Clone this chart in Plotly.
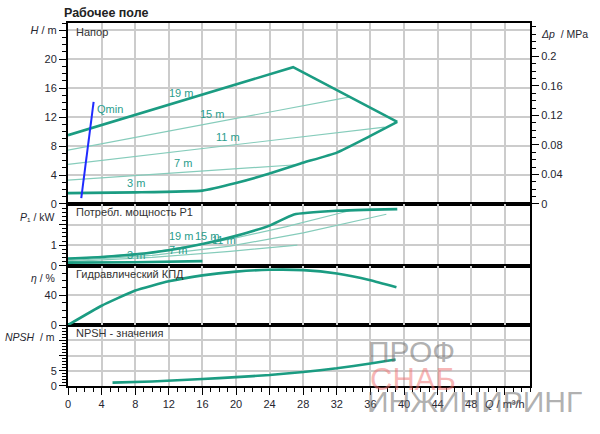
import plotly.graph_objects as go

# ---------------- data ----------------
# Head (H, m) vs flow (Q, m3/h)
q_hmax = [0, 26.8, 39.2]
h_hmax = [9.5, 18.9, 11.35]
q_hmin = [0, 8, 16, 20, 24, 27.7, 32, 36, 39.2]
h_hmin = [1.5, 1.6, 1.85, 2.9, 4.2, 5.6, 7.1, 9.4, 11.35]
q_h15 = [0, 33.6]
h_h15 = [7.45, 14.8]
q_h11 = [0, 37.7]
h_h11 = [5.47, 10.62]
q_h7 = [0, 27.2]
h_h7 = [3.3, 5.42]
q_qmin = [1.58, 3.05]
h_qmin = [0.8, 14.1]

# Power P1 (kW)
q_p19 = [0, 4, 8, 12, 16, 20, 24, 26.9, 32, 39.2]
p_p19 = [0.35, 0.42, 0.55, 0.75, 1.05, 1.45, 1.95, 2.49, 2.67, 2.75]
q_p15 = [0, 10, 19.3, 26, 33.5]
p_p15 = [0.3, 0.65, 1.29, 1.9, 2.67]
q_p11 = [0, 10, 19.3, 28, 37.9]
p_p11 = [0.25, 0.5, 0.95, 1.6, 2.5]
q_p7 = [0, 10, 19.3, 27.3]
p_p7 = [0.2, 0.4, 0.7, 1.0]
q_p3 = [0, 8, 16]
p_p3 = [0.15, 0.17, 0.22]

# Hydraulic efficiency (%)
q_eta = [0, 4, 8, 12, 16, 20, 24, 28, 32, 36, 39.1]
eta = [0, 26, 46.5, 59, 67, 72, 74.5, 74, 69.5, 60.5, 51]

# NPSH (m)
q_npsh = [5.3, 10, 16, 20, 24, 28, 32, 36, 39]
npsh = [1.1, 1.5, 2.3, 2.9, 3.6, 4.6, 5.8, 7.4, 8.7]

# curve labels
lab_h_text = ["19 m", "15 m", "11 m", "7 m", "3 m"]
lab_h_x = [13.5, 17.2, 19.1, 13.7, 8.1]
lab_h_y = [15.4, 12.5, 9.3, 5.7, 2.85]
lab_p_text = ["19 m", "15 m", "11 m", "7 m", "3 m"]
lab_p_x = [13.5, 16.6, 18.6, 13.1, 8.1]
lab_p_y = [1.45, 1.45, 1.23, 0.78, 0.5]

x_ticks = [0, 4, 8, 12, 16, 20, 24, 28, 32, 36, 40, 44, 48, 52]
x_ticktext = ["0", "4", "8", "12", "16", "20", "24", "28", "32", "36", "40", "44", "48",
              "<i>Q</i> / m³/h"]
h_ticks = [0, 4, 8, 12, 16, 20, 24]
h_ticktext = ["0", "4", "8", "12", "16", "20", "<i>H</i> / m"]
dp_ticks = [0, 0.04, 0.08, 0.12, 0.16, 0.2]
dp_ticktext = ["0", "0.04", "0.08", "0.12", "0.16", "0.2"]

# ---------------- style ----------------
TEAL = "#1b9c82"
TEAL_THIN = "#86ccbb"
LABEL = "#2a9d8c"
GRID = "#cccccc"
FONT = "Liberation Sans, Arial, sans-serif"
TXT = "#262630"

fig = go.Figure()

def thick(x, y, xa, ya):
    fig.add_trace(go.Scatter(x=x, y=y, mode="lines", xaxis=xa, yaxis=ya,
                             line=dict(color=TEAL, width=2.6, shape="spline", smoothing=0.4),
                             hoverinfo="skip", showlegend=False))

def thin(x, y, xa, ya):
    fig.add_trace(go.Scatter(x=x, y=y, mode="lines", xaxis=xa, yaxis=ya,
                             line=dict(color=TEAL_THIN, width=1.2), hoverinfo="skip",
                             showlegend=False))

# H panel
thin(q_h15, h_h15, "x2", "y")
thin(q_h11, h_h11, "x2", "y")
thin(q_h7, h_h7, "x2", "y")
fig.add_trace(go.Scatter(x=q_hmax, y=h_hmax, mode="lines", xaxis="x2", yaxis="y",
                         line=dict(color=TEAL, width=2.6), hoverinfo="skip",
                         showlegend=False))
thick(q_hmin, h_hmin, "x2", "y")
fig.add_trace(go.Scatter(x=q_qmin, y=h_qmin, mode="lines", xaxis="x2", yaxis="y",
                         line=dict(color="#1f2bff", width=2), hoverinfo="skip",
                         showlegend=False))
# P panel
thin(q_p15, p_p15, "x3", "y2")
thin(q_p11, p_p11, "x3", "y2")
thin(q_p7, p_p7, "x3", "y2")
thick(q_p19, p_p19, "x3", "y2")
thick(q_p3, p_p3, "x3", "y2")
# eta panel
thick(q_eta, eta, "x4", "y3")
# NPSH panel
thick(q_npsh, npsh, "x", "y4")

# dummy trace for the delta-p axis
fig.add_trace(go.Scatter(x=[None], y=[None], xaxis="x2", yaxis="y5", showlegend=False))

ann = []
for t, x, y in zip(lab_h_text, lab_h_x, lab_h_y):
    ann.append(dict(text=t, x=x, y=y, xref="x2", yref="y", showarrow=False,
                    yanchor="middle", font=dict(color=LABEL, size=11, family=FONT)))
ann.append(dict(text="Qmin", x=4.95, y=13.1, xref="x2", yref="y", showarrow=False,
                yanchor="middle", font=dict(color=LABEL, size=11, family=FONT)))
for t, x, y in zip(lab_p_text, lab_p_x, lab_p_y):
    ann.append(dict(text=t, x=x, y=y, xref="x3", yref="y2", showarrow=False,
                    yanchor="middle", font=dict(color=LABEL, size=11, family=FONT)))

# panel titles
for txt, yr in [("Напор", "y domain"), ("Потребл. мощность P1", "y2 domain"),
                ("Гидравлический КПД", "y3 domain"), ("NPSH - значения", "y4 domain")]:
    ann.append(dict(text=txt, x=0, xref="paper", xanchor="left", xshift=6,
                    y=0.995, yref=yr, yanchor="top", showarrow=False,
                    font=dict(color="#333333", size=11, family=FONT)))

# axis titles
for txt, y in [("<i>P</i>₁ / kW", 0.466), ("<i>η</i> / %", 0.2975), ("<i>NPSH</i>  / m", 0.1358)]:
    ann.append(dict(text=txt, x=0, xref="paper", xanchor="right", xshift=-11,
                    y=y, yref="paper", yanchor="middle", showarrow=False,
                    font=dict(color=TXT, size=10.5, family=FONT)))
ann.append(dict(text="<i>Δp</i>  / MPa", x=1, xref="paper", xanchor="left", xshift=9,
                y=0.969, yref="paper", yanchor="middle", showarrow=False,
                font=dict(color=TXT, size=10.5, family=FONT)))
ann.append(dict(text="<b>Рабочее поле</b>", x=-0.013, xref="paper", xanchor="left",
                y=1.0275, yref="paper", yanchor="middle", showarrow=False,
                font=dict(color="#222222", size=12.5, family=FONT)))

# watermark
ann.append(dict(text="ПРОФ", x=0.645, xref="paper", xanchor="left", y=0.096, yref="paper",
                yanchor="middle", showarrow=False,
                font=dict(color="rgba(110,110,110,0.55)", size=30, family=FONT)))
ann.append(dict(text="СНАБ", x=0.65, xref="paper", xanchor="left", y=0.017, yref="paper",
                yanchor="middle", showarrow=False,
                font=dict(color="rgba(240,110,110,0.5)", size=31, family=FONT)))
ann.append(dict(text="ИНЖИНИРИНГ", x=0.643, xref="paper", xanchor="left", y=-0.042,
                yref="paper", yanchor="middle", showarrow=False,
                font=dict(color="rgba(110,110,110,0.55)", size=30, family=FONT)))

common_x = dict(range=[0, 55], showgrid=True, gridcolor=GRID, gridwidth=1.5,
                tickmode="array", tickvals=x_ticks, showline=True, linecolor="black",
                linewidth=2, mirror=True, zeroline=False)

tickfont = dict(size=11, color=TXT, family=FONT)

def yax(domain, rng, tickvals, ticktext, minor_dtick, anchor):
    return dict(domain=domain, range=rng, anchor=anchor, tickmode="array",
                tickvals=tickvals, ticktext=ticktext, ticks="outside", ticklen=7,
                tickwidth=1.2, tickcolor="black", showgrid=True, gridcolor=GRID,
                gridwidth=1.5, showline=True, linecolor="black", linewidth=2,
                mirror=True, zeroline=False, tickfont=tickfont,
                minor=dict(tickmode="linear", tick0=0, dtick=minor_dtick, ticks="outside",
                           ticklen=4, tickcolor="black", tickwidth=1, showgrid=False))

fig.update_layout(
    width=600, height=434,
    margin=dict(l=68, r=70, t=23, b=48),
    paper_bgcolor="white", plot_bgcolor="white",
    font=dict(family=FONT, color=TXT),
    hovermode=False,
    xaxis=dict(**common_x, anchor="y4", ticktext=x_ticktext, ticks="outside", ticklen=7,
               tickwidth=1.2, tickcolor="black", tickfont=tickfont,
               minor=dict(tickmode="linear", tick0=0, dtick=1, ticks="outside",
                          ticklen=4, tickcolor="black", tickwidth=1, showgrid=False)),
    xaxis2=dict(**common_x, anchor="y", matches="x", showticklabels=False, ticks=""),
    xaxis3=dict(**common_x, anchor="y2", matches="x", showticklabels=False, ticks=""),
    xaxis4=dict(**common_x, anchor="y3", matches="x", showticklabels=False, ticks=""),
    yaxis=yax([0.5014, 1.0], [0, 25], h_ticks, h_ticktext, 1, "x2"),
    yaxis2=yax([0.3314, 0.5014], [0, 3], [0, 1, 2], ["0", "1", ""], 0.2, "x3"),
    yaxis3=yax([0.168, 0.3314], [0, 80], [0, 40], ["0", "40"], 10, "x4"),
    yaxis4=yax([0, 0.168], [0, 20], [0, 5, 10, 15], ["0", "5", "", ""], 1, "x"),
    yaxis5=dict(overlaying="y", side="right", anchor="x2", range=[0, 25 * 0.0098067],
                tickmode="array", tickvals=dp_ticks, ticktext=dp_ticktext,
                ticks="outside", ticklen=7, tickwidth=1.2, tickcolor="black",
                showgrid=False, zeroline=False, showline=True, linecolor="black",
                linewidth=2, tickfont=tickfont,
                minor=dict(tickmode="linear", tick0=0, dtick=0.01, ticks="outside",
                           ticklen=4, tickcolor="black", tickwidth=1)),
    annotations=ann,
)

fig.write_html("out.html", config={"displayModeBar": False},
               post_script="document.body.style.margin='0';")
